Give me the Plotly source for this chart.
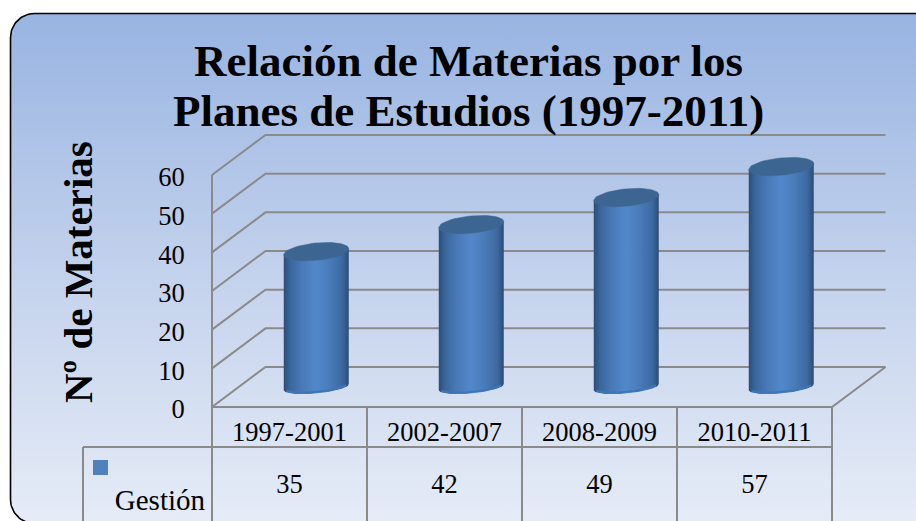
import numpy as np
import plotly.graph_objects as go

# ---- data ----
categories = ["1997-2001", "2002-2007", "2008-2009", "2010-2011"]
gestion = [35, 42, 49, 57]
y_ticks = [0, 10, 20, 30, 40, 50, 60]
series_name = "Gestión"
title_lines = ["Relación de Materias por los", "Planes de Estudios (1997-2011)"]
y_title = "Nº de Materias"

# ---- layout constants (pixels) ----
W, H = 916, 521
X0, X1 = 212.0, 832.0     # front floor edge
Y0, Y60 = 407.0, 175.0    # front value 0 / value 60
DX_PX, DY_PX = 53.5, 40.0 # oblique depth
UX = (X1 - X0) / 4        # px per category
UY = (Y0 - Y60) / 60      # px per value unit
FONT = "Liberation Serif"
GRID = "#8a8a8a"
TICK_SIZE = 26.5


def dx(px):  # pixel x -> x data
    return (px - X0) / UX - 0.5


def dy(py):  # pixel y -> y data
    return (Y0 - py) / UY


DEPTH_X, DEPTH_Y = DX_PX / UX, DY_PX / UY
fig = go.Figure()

# panel background: rounded rectangle running off the right and bottom
R, L, T, RIGHT, BOT = 24, 10.5, 13.5, 960, 523.5
ang = np.linspace(np.pi, 1.5 * np.pi, 24)
px_ = [L + R + R * np.cos(a) for a in ang] + [RIGHT, RIGHT]
ang2 = np.linspace(0.5 * np.pi, np.pi, 24)
px_ += [L + R + R * np.cos(a) for a in ang2] + [L]
py_ = [T + R + R * np.sin(a) for a in ang] + [T, BOT]
py_ += [BOT - R + R * np.sin(a) for a in ang2] + [T + R]
fig.add_trace(go.Scatter(
    x=[dx(p) for p in px_], y=[dy(p) for p in py_], mode="lines", fill="toself",
    line=dict(color="#000000", width=1.6),
    fillgradient=dict(type="vertical",
                      colorscale=[[0, "#e6ecf7"], [0.5, "#c2d1ec"], [1, "#98b4e2"]]),
    showlegend=False, hoverinfo="skip"))

# oblique grid and walls
gx, gy = [], []
for v in y_ticks:
    gx += [-0.5, -0.5 + DEPTH_X, 3.5 + DEPTH_X, None]
    gy += [v, v + DEPTH_Y, v + DEPTH_Y, None]
gx += [-0.5, -0.5, None, -0.5, 3.5, 3.5 + DEPTH_X, None]
gy += [0, 60, None, 0, 0, DEPTH_Y, None]
fig.add_trace(go.Scatter(x=gx, y=gy, mode="lines", line=dict(color=GRID, width=2),
                         showlegend=False, hoverinfo="skip"))

# data table lines
row1_py, row2_py, left_py = 447.0, 530.0, 83.0
tx, ty = [dx(left_py), 3.5, None, dx(left_py), dx(left_py), None], [dy(row1_py), dy(row1_py), None, dy(row1_py), dy(row2_py), None]
for i in range(5):
    tx += [i - 0.5, i - 0.5, None]
    ty += [0, dy(row2_py), None]
fig.add_trace(go.Scatter(x=tx, y=ty, mode="lines", line=dict(color=GRID, width=2),
                         showlegend=False, hoverinfo="skip"))

# cylinders
A_X = 32.5 / UX
B_Y = 8.7 / UY
B_FOOT = 6.5 / UY
S_Y = 3.0 / UY
t_front = np.linspace(0, np.pi, 40)   # right -> front -> left
t_full = np.linspace(0, 2 * np.pi, 60)
for i, v in enumerate(gestion):
    cx = i + DEPTH_X / 2
    base = DEPTH_Y / 2
    top = base + v
    bx = cx + A_X * np.cos(t_front)
    by = base - B_FOOT * np.sin(t_front) + S_Y * np.cos(t_front)
    xs = list(bx) + [cx - A_X, cx + A_X, cx + A_X]
    ys = list(by) + [top - S_Y, top + S_Y, base + S_Y]
    fig.add_trace(go.Scatter(
        x=xs, y=ys, mode="lines", fill="toself", line=dict(width=0),
        fillgradient=dict(type="horizontal", colorscale=[
            [0, "#2c4d76"], [0.1, "#3a669e"], [0.28, "#4979b6"], [0.5, "#5288cb"],
            [0.72, "#487ab7"], [0.9, "#3d69a1"], [1, "#2c4c73"]]),
        showlegend=False, hoverinfo="skip"))
    # lighter lip at the foot of the cylinder
    fig.add_trace(go.Scatter(
        x=bx[5:-5], y=by[5:-5] + 0.4, mode="lines", line=dict(color="#3d76b8", width=2),
        showlegend=False, hoverinfo="skip"))
    fig.add_trace(go.Scatter(
        x=cx + A_X * np.cos(t_full),
        y=top + B_Y * np.sin(t_full) + S_Y * np.cos(t_full),
        mode="lines", fill="toself", line=dict(color="#3f6794", width=0.5),
        fillcolor="#3d6591", showlegend=False, hoverinfo="skip"))

# table contents
fig.add_trace(go.Scatter(
    x=list(range(4)), y=[dy(486)] * 4, mode="text", text=[str(v) for v in gestion],
    textfont=dict(family=FONT, size=TICK_SIZE, color="#000000"), textposition="middle center",
    showlegend=False, hoverinfo="skip"))
fig.add_trace(go.Scatter(
    x=[dx(100.5)], y=[dy(467.5)], mode="markers", name=series_name,
    marker=dict(symbol="square", size=15, color="#4f81bd", line=dict(width=0)),
    showlegend=False, hoverinfo="skip"))
fig.add_trace(go.Scatter(
    x=[dx(205)], y=[dy(503)], mode="text", text=[series_name],
    textfont=dict(family=FONT, size=29, color="#000000"), textposition="middle left",
    showlegend=False, hoverinfo="skip"))

fig.update_layout(
    width=W, height=H, margin=dict(l=0, r=0, t=0, b=0),
    paper_bgcolor="#ffffff", plot_bgcolor="rgba(0,0,0,0)", hovermode=False,
    font=dict(family=FONT, color="#000000"),
    xaxis=dict(domain=[0, 1], range=[dx(0), dx(W)], tickvals=list(range(4)),
               anchor="free", position=(H - Y0) / H, automargin=False,
               ticktext=categories, showgrid=False, zeroline=False, showline=False,
               ticks="outside", ticklen=1, tickcolor="rgba(0,0,0,0)",
               tickfont=dict(family=FONT, size=TICK_SIZE, color="#000000")),
    yaxis=dict(domain=[0, 1], range=[dy(H), dy(0)], tickvals=y_ticks,
               anchor="free", position=X0 / W, automargin=False,
               showgrid=False, zeroline=False, showline=False,
               ticks="outside", ticklen=22, tickcolor="rgba(0,0,0,0)",
               ticklabelshift=2,
               tickfont=dict(family=FONT, size=TICK_SIZE, color="#000000")),
    annotations=[
        dict(text=title_lines[0], x=469 / W, y=1 - 61 / H, xref="paper", yref="paper",
             xanchor="center", yanchor="middle", showarrow=False,
             font=dict(family=FONT, size=45, color="#000000", weight="bold")),
        dict(text=title_lines[1], x=469 / W, y=1 - 111 / H, xref="paper", yref="paper",
             xanchor="center", yanchor="middle", showarrow=False,
             font=dict(family=FONT, size=45, color="#000000", weight="bold")),
        dict(text=y_title, x=78 / W, y=1 - 272 / H, xref="paper", yref="paper",
             xanchor="center", yanchor="middle", showarrow=False, textangle=-90,
             font=dict(family=FONT, size=41, color="#000000", weight="bold")),
    ],
)
fig.write_html("out.html", config={"displayModeBar": False},
               post_script="document.body.style.margin='0';document.body.style.overflow='hidden';")
